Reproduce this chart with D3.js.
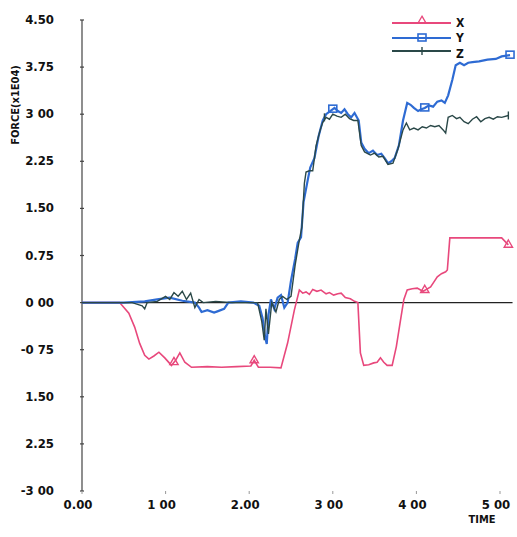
<!DOCTYPE html>
<html><head><meta charset="utf-8">
<script src="https://cdn.jsdelivr.net/npm/d3@7"></script>
<style>
body{margin:0;background:#fff;}
text{font-family:"Liberation Sans Narrow","DejaVu Sans Condensed","Liberation Sans",sans-serif;font-weight:bold;fill:#111;}
</style></head>
<body>
<svg id="c" width="517" height="537"></svg>
<script>
// ---- data ----
const yTickValues = [4.5, 3.75, 3, 2.25, 1.5, 0.75, 0, -0.75, -1.5, -2.25, -3];
const yTickLabels = ["4.50", "3.75", "3 00", "2.25", "1.50", "0.75", "0 00", "-0 75", "1.50", "2.25", "-3 00"];
const xTickValues = [0, 1, 2, 3, 4, 5];
const xTickLabels = ["0.00", "1 00", "2.00", "3 00", "4 00", "5 00"];
const seriesNames = ["X", "Y", "Z"];

const xTimes = [0,0.45,0.56,0.63,0.69,0.75,0.80,0.86,0.92,0.99,1.07,1.12,1.17,1.23,1.31,1.5,1.67,1.85,2.02,2.06,2.11,2.25,2.38,2.46,2.54,2.60,2.64,2.68,2.72,2.76,2.81,2.86,2.92,2.96,3.01,3.06,3.10,3.15,3.21,3.26,3.30,3.33,3.37,3.43,3.49,3.53,3.57,3.61,3.65,3.71,3.76,3.81,3.85,3.89,3.95,4.01,4.05,4.08,4.12,4.17,4.21,4.25,4.30,4.35,4.37,4.40,4.6,4.8,5.02,5.10];
const xValues = [0,0,-0.17,-0.39,-0.65,-0.84,-0.9,-0.85,-0.79,-0.88,-1.0,-0.92,-0.80,-0.95,-1.03,-1.02,-1.03,-1.02,-1.01,-0.92,-1.03,-1.03,-1.04,-0.64,-0.12,0.2,0.15,0.17,0.13,0.21,0.18,0.2,0.14,0.16,0.12,0.14,0.15,0.08,0.06,0.02,0.0,-0.8,-1.0,-0.99,-0.96,-0.95,-0.88,-0.95,-1.0,-1.0,-0.7,-0.28,0.05,0.2,0.22,0.23,0.2,0.18,0.21,0.25,0.33,0.41,0.46,0.49,0.52,1.03,1.03,1.03,1.03,0.92];

const yTimes = [0,0.5,0.75,0.9,1.05,1.2,1.35,1.40,1.43,1.50,1.58,1.62,1.70,1.75,1.9,2.05,2.12,2.16,2.19,2.21,2.23,2.26,2.30,2.34,2.38,2.42,2.46,2.50,2.55,2.58,2.62,2.65,2.70,2.73,2.78,2.83,2.88,2.92,2.97,3.02,3.06,3.10,3.14,3.18,3.22,3.26,3.31,3.34,3.38,3.43,3.48,3.53,3.58,3.62,3.66,3.70,3.74,3.79,3.84,3.89,3.93,3.97,4.02,4.06,4.10,4.15,4.20,4.25,4.30,4.34,4.38,4.43,4.47,4.52,4.57,4.62,4.67,4.75,4.85,4.95,5.02,5.12];
const yValues = [0,0,0.02,0.05,0.08,0.03,0,-0.08,-0.15,-0.12,-0.16,-0.14,-0.1,0,0.02,0,-0.05,-0.25,-0.55,-0.66,-0.2,0.05,-0.1,0.08,0.12,-0.08,0.0,0.35,0.7,0.95,1.04,1.6,1.95,2.15,2.3,2.65,2.9,3.0,3.05,3.1,3.05,3.02,3.08,3.0,2.95,3.02,2.9,2.55,2.45,2.38,2.42,2.35,2.37,2.3,2.22,2.25,2.3,2.5,2.9,3.18,3.15,3.1,3.05,3.08,3.1,3.14,3.12,3.2,3.22,3.18,3.3,3.55,3.78,3.82,3.78,3.82,3.83,3.84,3.87,3.88,3.92,3.94];

const zTimes = [0,0.3,0.6,0.72,0.75,0.78,0.9,1.0,1.05,1.1,1.15,1.2,1.25,1.3,1.35,1.4,1.45,1.6,1.8,2.0,2.1,2.15,2.18,2.2,2.23,2.27,2.32,2.36,2.4,2.45,2.5,2.55,2.6,2.63,2.66,2.68,2.72,2.76,2.8,2.85,2.88,2.92,2.96,3.0,3.05,3.1,3.15,3.2,3.25,3.3,3.34,3.38,3.45,3.5,3.55,3.6,3.66,3.72,3.78,3.84,3.88,3.92,3.97,4.02,4.07,4.12,4.17,4.22,4.27,4.32,4.35,4.38,4.43,4.48,4.52,4.57,4.62,4.67,4.72,4.77,4.82,4.87,4.92,4.97,5.02,5.1];
const zValues = [0,0,0,-0.05,-0.1,0,0.02,0.1,0.05,0.16,0.1,0.18,0.05,0.15,-0.08,0.05,0,0.02,0,0,0,-0.3,-0.6,-0.1,-0.5,0,-0.15,0.05,0.1,0.05,0.1,0.6,1.0,1.2,1.9,2.08,2.1,2.1,2.5,2.75,2.87,2.95,2.92,3.0,2.97,2.95,3.0,2.93,2.9,2.9,2.5,2.4,2.35,2.38,2.32,2.33,2.2,2.22,2.45,2.75,2.86,2.75,2.78,2.75,2.8,2.78,2.82,2.8,2.82,2.75,2.7,2.95,2.98,2.93,2.95,2.88,2.85,2.92,2.96,2.88,2.93,2.95,2.92,2.96,2.95,2.98];

// markers placed on the series
const xMarkers = [[1.1,-0.95],[2.06,-0.92],[4.1,0.2],[5.1,0.92]];
const yMarkers = [[3.0,3.08],[4.1,3.1],[5.12,3.94]];
const zMarkers = [[2.9,2.95],[5.1,2.98]];

const colors = {X:"#e8487c", Y:"#2e6bd3", Z:"#2a4848"};

// ---- chart ----
const svg = d3.select("#c");
const x = d3.scaleLinear().domain([0,5]).range([82,500]);
const y = d3.scaleLinear().domain([-3,4.5]).range([491,20]);

// y axis
svg.append("line").attr("x1",x(0)).attr("x2",x(0)).attr("y1",y(4.5)).attr("y2",y(-3))
  .attr("stroke","#444").attr("stroke-width",1.2);
svg.selectAll(".yt").data(yTickValues).enter().append("line")
  .attr("x1",x(0)-2).attr("x2",x(0)+2).attr("y1",d=>y(d)).attr("y2",d=>y(d))
  .attr("stroke","#444").attr("stroke-width",1.2);
svg.selectAll(".yl").data(yTickValues).enter().append("text")
  .attr("x",54).attr("y",d=>y(d)+4).attr("text-anchor","end")
  .attr("font-size",13).text((d,i)=>yTickLabels[i]);

// x tick labels
svg.selectAll(".xt").data(xTickValues).enter().append("line")
  .attr("x1",d=>x(d)).attr("x2",d=>x(d)).attr("y1",y(-3)).attr("y2",y(-3)+3)
  .attr("stroke","#999").attr("stroke-width",1);
svg.selectAll(".xl").data(xTickValues).enter().append("text")
  .attr("x",d=>x(d)-4).attr("y",509).attr("text-anchor","middle")
  .attr("font-size",13).text((d,i)=>xTickLabels[i]);

svg.append("text").attr("x",482).attr("y",523).attr("text-anchor","middle")
  .attr("font-size",11).text("TIME");
svg.append("text").attr("transform","translate(19,105) rotate(-90)")
  .attr("text-anchor","middle").attr("font-size",11).text("FORCE(x1E04)");

// zero line
svg.append("line").attr("x1",x(0)).attr("x2",x(5.15)).attr("y1",y(0)).attr("y2",y(0))
  .attr("stroke","#222").attr("stroke-width",1.3);

const line = d3.line().x(d=>x(d[0])).y(d=>y(d[1]));
const zip = (t,v)=>t.map((d,i)=>[d,v[i]]);

svg.append("path").datum(zip(xTimes,xValues)).attr("d",line)
  .attr("fill","none").attr("stroke",colors.X).attr("stroke-width",1.6);
svg.append("path").datum(zip(yTimes,yValues)).attr("d",line)
  .attr("fill","none").attr("stroke",colors.Y).attr("stroke-width",2.2);
svg.append("path").datum(zip(zTimes,zValues)).attr("d",line)
  .attr("fill","none").attr("stroke",colors.Z).attr("stroke-width",1.4);

// markers
const tri = d3.symbol().type(d3.symbolTriangle).size(30);
svg.selectAll(".mx").data(xMarkers).enter().append("path")
  .attr("d",tri).attr("transform",d=>`translate(${x(d[0])},${y(d[1])})`)
  .attr("fill","none").attr("stroke",colors.X).attr("stroke-width",1.4);
svg.selectAll(".my").data(yMarkers).enter().append("rect")
  .attr("x",d=>x(d[0])-4).attr("y",d=>y(d[1])-4).attr("width",8).attr("height",7)
  .attr("fill","none").attr("stroke",colors.Y).attr("stroke-width",1.6);
svg.selectAll(".mz").data(zMarkers).enter().append("line")
  .attr("x1",d=>x(d[0])).attr("x2",d=>x(d[0])).attr("y1",d=>y(d[1])-4).attr("y2",d=>y(d[1])+4)
  .attr("stroke",colors.Z).attr("stroke-width",1.4);

// legend
const legY = [23, 38, 51];
seriesNames.forEach((s,i)=>{
  const g = svg.append("g");
  g.append("line").attr("x1",392).attr("x2",451).attr("y1",legY[i]).attr("y2",legY[i])
    .attr("stroke",colors[s]).attr("stroke-width",1.8);
  if(s==="X") g.append("path").attr("d",tri).attr("transform",`translate(422,${legY[i]-2})`)
    .attr("fill","none").attr("stroke",colors.X).attr("stroke-width",1.3);
  if(s==="Y") g.append("rect").attr("x",418).attr("y",legY[i]-4).attr("width",8).attr("height",7)
    .attr("fill","none").attr("stroke",colors.Y).attr("stroke-width",1.6);
  if(s==="Z") g.append("line").attr("x1",422).attr("x2",422).attr("y1",legY[i]-4).attr("y2",legY[i]+4)
    .attr("stroke",colors.Z).attr("stroke-width",1.4);
  g.append("text").attr("x",456).attr("y",legY[i]+ (s==="Z"?7:4)).attr("font-size",12).text(s);
});
</script>
</body></html>
